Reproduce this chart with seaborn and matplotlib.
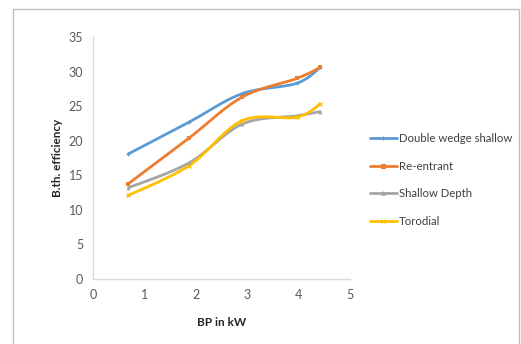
import numpy as np
import pandas as pd
import seaborn as sns
import matplotlib
matplotlib.use("Agg")
import matplotlib.pyplot as plt
from matplotlib.patches import Rectangle

# Brake power (kW) and brake thermal efficiency (%) for each piston bowl geometry
bp = [0.69, 1.87, 2.9, 3.96, 4.42]
double_wedge_shallow = [18.1, 22.7, 26.8, 28.3, 30.6]
re_entrant = [13.8, 20.4, 26.3, 29.0, 30.6]
shallow_depth = [13.2, 16.8, 22.4, 23.6, 24.2]
torodial = [12.1, 16.4, 22.9, 23.4, 25.3]

series_names = ["Double wedge shallow", "Re-entrant", "Shallow Depth", "Torodial"]
series_values = [double_wedge_shallow, re_entrant, shallow_depth, torodial]
colors = ["#5b9bd5", "#ed7d31", "#a5a5a5", "#ffc000"]
markers = ["+", "s", "^", "x"]

x_ticks = [0, 1, 2, 3, 4, 5]
y_ticks = [0, 5, 10, 15, 20, 25, 30, 35]


def smooth_curve(xs, ys, steps=30):
    """Cubic Bezier smoothing through every point (spreadsheet-style smoothed line)."""
    pts = np.column_stack([xs, ys]).astype(float)
    n = len(pts)
    out = []
    for i in range(n - 1):
        p0 = pts[i - 1] if i > 0 else pts[i]
        p1 = pts[i]
        p2 = pts[i + 1]
        p3 = pts[i + 2] if i + 2 < n else pts[i + 1]
        c1 = p1 + (p2 - p0) / 6.0
        c2 = p2 - (p3 - p1) / 6.0
        t = np.linspace(0, 1, steps, endpoint=(i == n - 2))[:, None]
        seg = ((1 - t) ** 3) * p1 + 3 * ((1 - t) ** 2) * t * c1 + 3 * (1 - t) * t ** 2 * c2 + t ** 3 * p2
        out.append(seg)
    out = np.vstack(out)
    return out[:, 0], out[:, 1]


sns.set_theme(style="white")
plt.rcParams["font.family"] = ["Lato", "DejaVu Sans"]

fig = plt.figure(figsize=(5.21, 3.44), dpi=100)
fig.patch.set_facecolor("white")
ax = fig.add_axes([0.1785, 0.189, 0.4933, 0.7034])

# Outer chart frame
fig.add_artist(Rectangle((13 / 521, -0.05), (519 - 13) / 521, 1.05 - 9 / 344,
                         transform=fig.transFigure, fill=False,
                         edgecolor="#bfbfbf", linewidth=1.0))

for name, vals, col, mk in zip(series_names, series_values, colors, markers):
    sx, sy = smooth_curve(bp, vals)
    sns.lineplot(x=sx, y=sy, ax=ax, color=col, linewidth=2.0, sort=False,
                 estimator=None, legend=False)
    sns.scatterplot(x=bp, y=vals, ax=ax, color=col, marker=mk, s=8,
                    linewidth=0.9 if mk in ["+", "x"] else 0, edgecolor=col,
                    legend=False, zorder=3)

ax.set_xlim(0, 5)
ax.set_ylim(0, 35)
ax.set_xticks(x_ticks)
ax.set_yticks(y_ticks)
ax.tick_params(axis="both", length=0, labelsize=9, labelcolor="#595959", pad=7)
for s in ["top", "right"]:
    ax.spines[s].set_visible(False)
for s in ["left", "bottom"]:
    ax.spines[s].set_color("#d9d9d9")
    ax.spines[s].set_linewidth(1.0)
ax.grid(False)

ax.set_xlabel("BP in kW", fontsize=8.5, fontweight="bold", color="#262626", labelpad=12)
ax.set_ylabel("B.th. efficiency", fontsize=8.5, fontweight="bold", color="#262626", labelpad=4)

handles = [plt.Line2D([], [], color=c, linewidth=2.0, marker=m, markersize=2.5,
                      markeredgewidth=0.8) for c, m in zip(colors, markers)]
fig.legend(handles, series_names, loc="upper left", bbox_to_anchor=(0.69, 0.643),
           frameon=False, fontsize=8.2, labelcolor="#404040", handlelength=2.4,
           handletextpad=0.15, labelspacing=1.45)

fig.savefig("out.png", dpi=100)
